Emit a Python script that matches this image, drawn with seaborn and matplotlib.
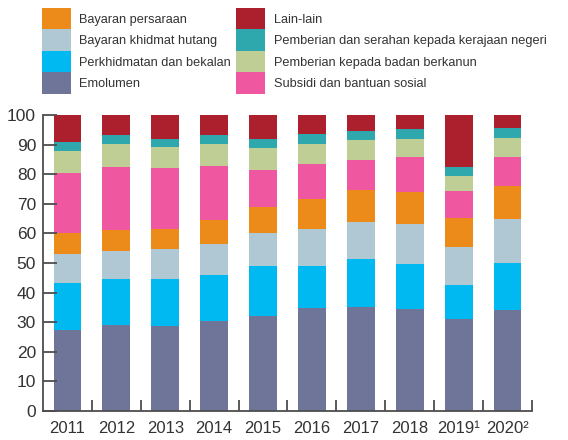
import numpy as np
import pandas as pd
import matplotlib
matplotlib.use("Agg")
import matplotlib.pyplot as plt
import seaborn as sns
from matplotlib.patches import Patch

# ===========================
# Data (share of expenditure, %)
# ===========================

years = ["2011", "2012", "2013", "2014", "2015", "2016", "2017", "2018", "2019¹", "2020²"]

emolumen = [27.5, 29.1, 28.8, 30.5, 32.2, 34.9, 35.1, 34.5, 31.1, 34.2]
perkhidmatan = [15.7, 15.5, 15.8, 15.4, 16.8, 14.1, 16.3, 15.2, 11.5, 15.8]
khidmat_hutang = [9.8, 9.5, 10.1, 10.5, 11.1, 12.5, 12.5, 13.5, 12.8, 14.9]
persaraan = [7.1, 7.2, 6.8, 8.2, 8.8, 10.1, 10.9, 10.9, 9.9, 11.1]
subsidi = [20.3, 21.1, 20.6, 18.2, 12.6, 12.0, 10.0, 11.7, 9.0, 9.8]
badan_berkanun = [7.4, 7.8, 7.1, 7.4, 7.4, 6.6, 6.8, 6.1, 5.1, 6.4]
negeri = [3.1, 3.2, 2.7, 3.2, 3.0, 3.4, 3.0, 3.4, 3.0, 3.4]
lain_lain = [9.1, 6.6, 8.1, 6.6, 8.1, 6.4, 5.4, 4.7, 17.6, 4.4]

# stacking order, bottom to top
series = [
    ("Emolumen", emolumen, "#6E7599"),
    ("Perkhidmatan dan bekalan", perkhidmatan, "#00B9F1"),
    ("Bayaran khidmat hutang", khidmat_hutang, "#AFC8D3"),
    ("Bayaran persaraan", persaraan, "#EC8B1A"),
    ("Subsidi dan bantuan sosial", subsidi, "#EF58A0"),
    ("Pemberian kepada badan berkanun", badan_berkanun, "#BFCE94"),
    ("Pemberian dan serahan kepada kerajaan negeri", negeri, "#2EA8AC"),
    ("Lain-lain", lain_lain, "#AC1F2D"),
]

df = pd.DataFrame({name: vals for name, vals, _ in series})
df["Tahun"] = years
cum = df[[s[0] for s in series]].cumsum(axis=1)
cum["Tahun"] = years

# ===========================
# Plot
# ===========================

plt.rcParams["font.family"] = ["Liberation Sans", "DejaVu Sans"]

fig = plt.figure(figsize=(5.68, 4.4), dpi=100)
ax = fig.add_axes([0.0757, 0.0659, 0.8609, 0.6727])

# draw tallest cumulative first, then overlay the lower ones
for name, _, color in reversed(series):
    sns.barplot(data=cum, x="Tahun", y=name, order=years, color=color,
                width=0.57, saturation=1, ax=ax, linewidth=0)

ax.set_xlim(-0.5, len(years) - 0.5)
ax.set_ylim(0, 100)
ax.set_yticks(np.arange(0, 101, 10))
ax.set_xlabel("")
ax.set_ylabel("")

for side in ["top", "right"]:
    ax.spines[side].set_visible(False)
for side in ["left", "bottom"]:
    ax.spines[side].set_color("#4d4d4d")
    ax.spines[side].set_linewidth(1.3)

ax.tick_params(axis="y", direction="in", length=10, width=1.3, color="#4d4d4d",
               labelsize=12.5, labelcolor="#333333", pad=5)
ax.tick_params(axis="x", which="major", length=0, labelsize=12,
               labelcolor="#333333", pad=7)
ax.set_xticks(np.arange(0.5, len(years), 1), minor=True)
ax.tick_params(axis="x", which="minor", direction="in", length=8, width=1.3,
               color="#4d4d4d")

legend_order = ["Bayaran persaraan", "Bayaran khidmat hutang",
                "Perkhidmatan dan bekalan", "Emolumen",
                "Lain-lain", "Pemberian dan serahan kepada kerajaan negeri",
                "Pemberian kepada badan berkanun", "Subsidi dan bantuan sosial"]
colors = {name: c for name, _, c in series}
handles = [Patch(facecolor=colors[n], edgecolor="none", label=n) for n in legend_order]
fig.legend(handles=handles, ncol=2, loc="upper left", bbox_to_anchor=(0.074, 0.982),
           frameon=False, fontsize=9.2, labelcolor="#333333",
           handlelength=2.24, handleheight=2.21, labelspacing=0.0,
           handletextpad=0.68, columnspacing=0.4, borderpad=0, borderaxespad=0)

plt.savefig("out.png", dpi=100)
plt.close()
